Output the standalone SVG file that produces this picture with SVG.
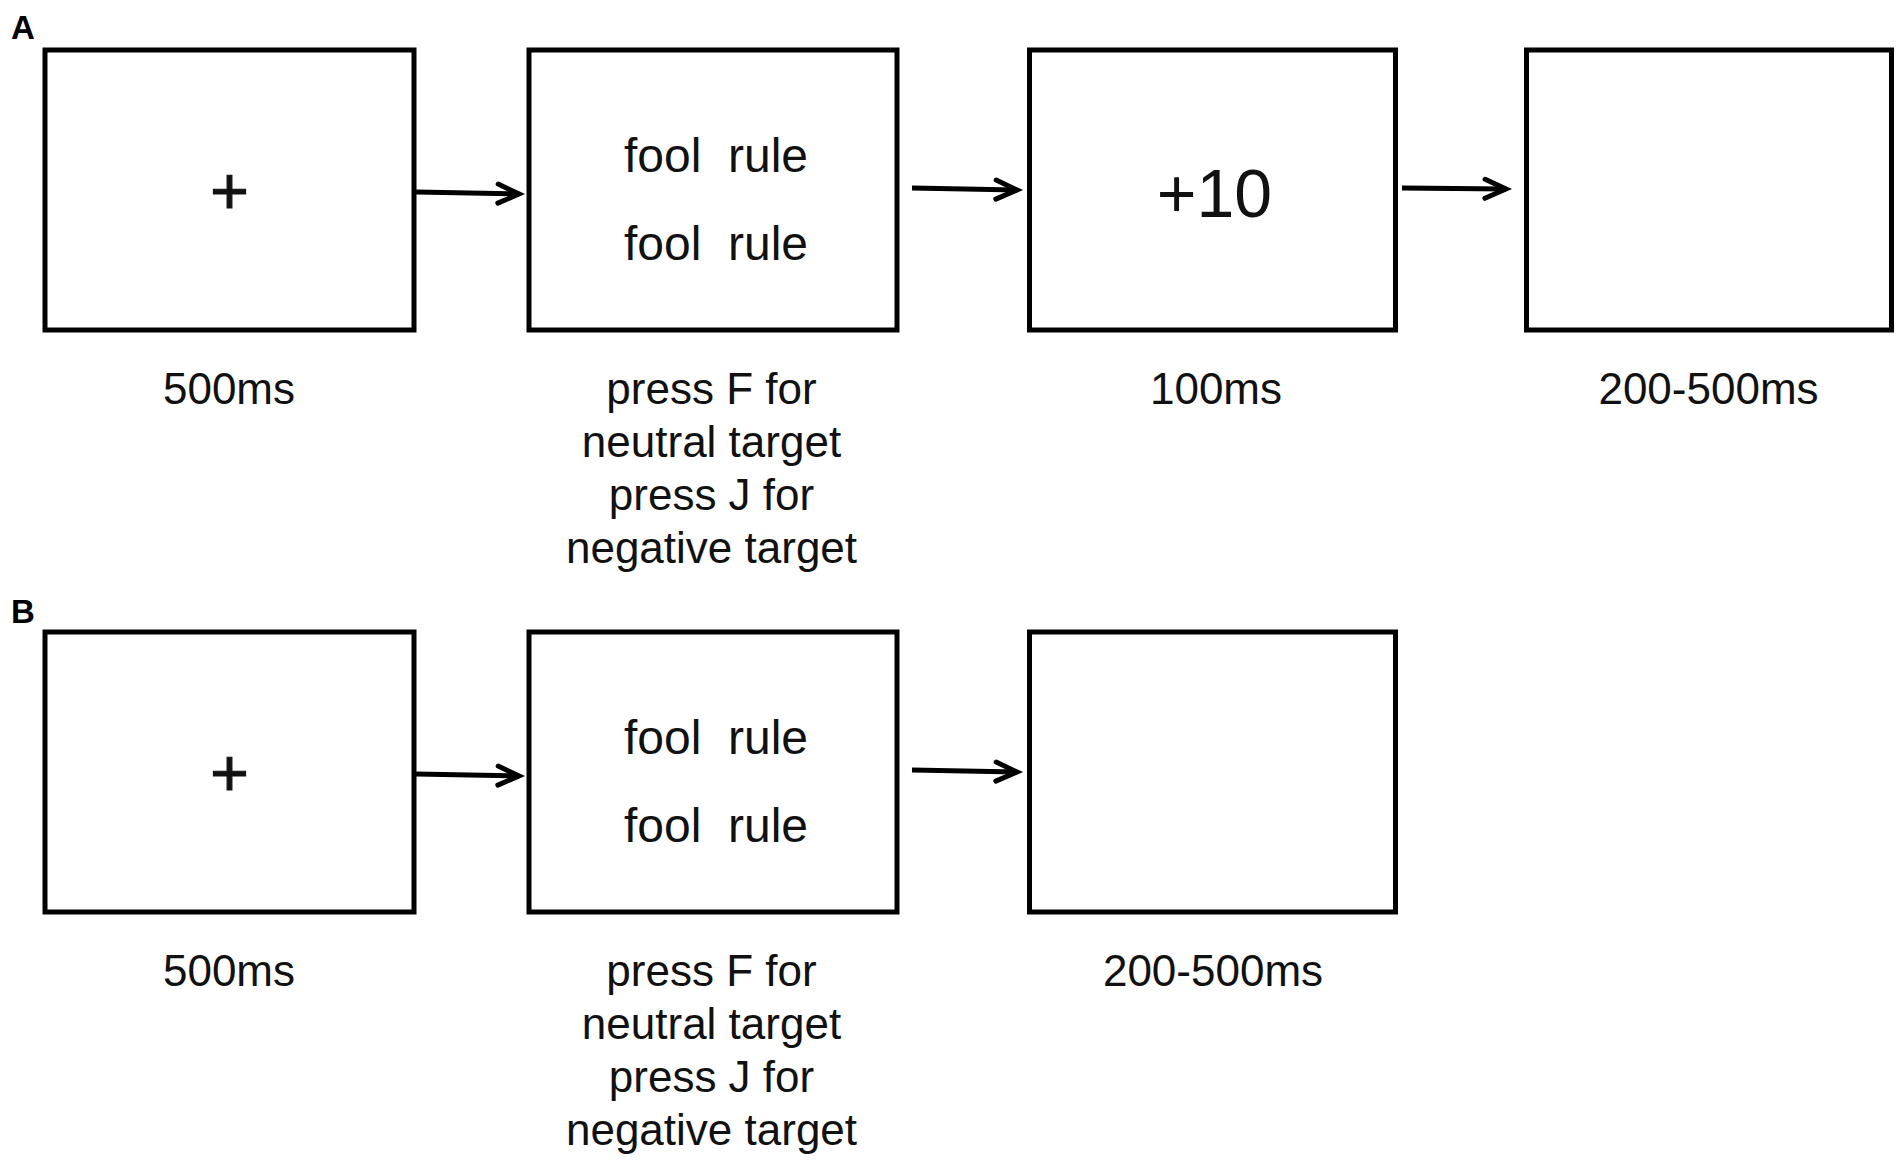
<svg xmlns="http://www.w3.org/2000/svg" width="1904" height="1171" viewBox="0 0 1904 1171">
<style>
.box{fill:#fff;stroke:#000;stroke-width:5}
.t{font-family:"Liberation Sans",Arial,sans-serif;fill:#111;text-anchor:middle}
.lab{font-size:44px}
.word{font-size:48px}
.cross{font-size:66px;stroke:#111;stroke-width:1.2}
.panel{font-family:"Liberation Sans",Arial,sans-serif;font-weight:bold;font-size:33px;fill:#000}
.conn{fill:none;stroke:#000;stroke-width:5}
</style>
<defs>
<marker id="arr" markerUnits="userSpaceOnUse" viewBox="-26 -13 30 26" markerWidth="30" markerHeight="26" refX="0" refY="0" orient="auto" overflow="visible">
<path d="M-21,-9.5 L0,0 L-21,9.5" fill="none" stroke="#000" stroke-width="5" stroke-linecap="round" stroke-linejoin="miter"/>
</marker>
</defs>
<rect width="1904" height="1171" fill="#fff"/>
<text class="panel" x="11" y="39">A</text>
<text class="panel" x="11" y="623">B</text>

<g id="A1"><rect class="box" x="45" y="50" width="369" height="280"/><text class="t cross" x="229.5" y="213.5">+</text><text class="t lab" x="229" y="404">500ms</text></g>
<g id="A2"><rect class="box" x="529" y="50" width="368" height="280"/><text class="t word" x="716" y="172" xml:space="preserve">fool  rule</text><text class="t word" x="716" y="260" xml:space="preserve">fool  rule</text>
<text class="t lab" x="711.5" y="404">press F for</text><text class="t lab" x="711.5" y="457">neutral target</text><text class="t lab" x="711.5" y="510">press J for</text><text class="t lab" x="711.5" y="563">negative target</text></g>
<g id="A3"><rect class="box" x="1029.5" y="50" width="366" height="280"/><text class="t" x="1214.5" y="217" font-size="68">+10</text><text class="t lab" x="1216" y="404">100ms</text></g>
<g id="A4"><rect class="box" x="1526.5" y="50" width="365" height="280"/><text class="t lab" x="1708.5" y="404">200-500ms</text></g>

<g id="B1"><rect class="box" x="45" y="632" width="369" height="280"/><text class="t cross" x="229.5" y="795.5">+</text><text class="t lab" x="229" y="986">500ms</text></g>
<g id="B2"><rect class="box" x="529" y="632" width="368" height="280"/><text class="t word" x="716" y="754" xml:space="preserve">fool  rule</text><text class="t word" x="716" y="842" xml:space="preserve">fool  rule</text>
<text class="t lab" x="711.5" y="986">press F for</text><text class="t lab" x="711.5" y="1039">neutral target</text><text class="t lab" x="711.5" y="1092">press J for</text><text class="t lab" x="711.5" y="1145">negative target</text></g>
<g id="B3"><rect class="box" x="1029.5" y="632" width="366" height="280"/><text class="t lab" x="1213" y="986">200-500ms</text></g>

<g id="connectors">
<path class="conn" d="M416,192 L519,194" marker-end="url(#arr)"/>
<path class="conn" d="M912,188 L1017,190" marker-end="url(#arr)"/>
<path class="conn" d="M1402,188 L1506,189" marker-end="url(#arr)"/>
<path class="conn" d="M416,774 L519,776" marker-end="url(#arr)"/>
<path class="conn" d="M912,770 L1017,772" marker-end="url(#arr)"/>
</g>
</svg>
